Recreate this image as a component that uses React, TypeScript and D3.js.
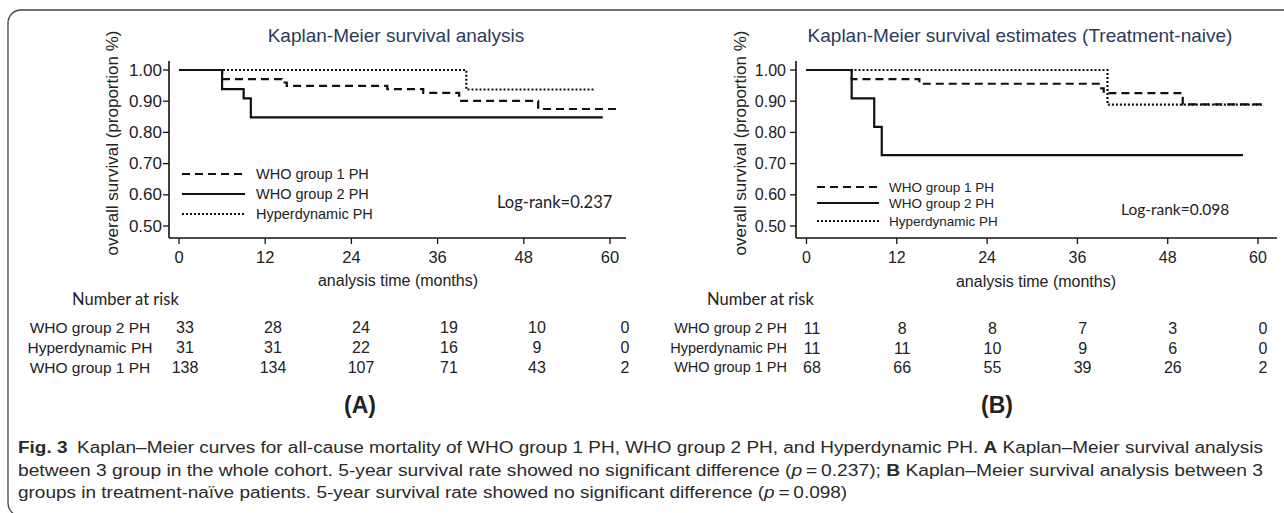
import React, { useLayoutEffect, useRef, useState } from "react";
import * as d3 from "d3";

// ---------- data ----------
const timeTicks = [0, 12, 24, 36, 48, 60];
const survTicks = [0.5, 0.6, 0.7, 0.8, 0.9, 1.0];
const legendLabels = ["WHO group 1 PH", "WHO group 2 PH", "Hyperdynamic PH"];
const riskLabels = ["WHO group 2 PH", "Hyperdynamic PH", "WHO group 1 PH"];

// Panel A: whole cohort
const aTitle = "Kaplan-Meier survival analysis";
const aLogRank = "Log-rank=0.237";
const aG1Time = [0, 6, 14.3, 15, 29, 34, 39, 50, 61.2];
const aG1Surv = [1, 0.971, 0.96, 0.949, 0.939, 0.927, 0.901, 0.875, 0.875];
const aG2Time = [0, 6, 9, 10, 59];
const aG2Surv = [1, 0.939, 0.909, 0.848, 0.848];
const aHdTime = [0, 40, 58];
const aHdSurv = [1, 0.9375, 0.9375];
const aRiskG2 = [33, 28, 24, 19, 10, 0];
const aRiskHd = [31, 31, 22, 16, 9, 0];
const aRiskG1 = [138, 134, 107, 71, 43, 2];

// Panel B: treatment-naive
const bTitle = "Kaplan-Meier survival estimates (Treatment-naive)";
const bLogRank = "Log-rank=0.098";
const bG1Time = [0, 6, 15, 39, 39.5, 50, 60.8];
const bG1Surv = [1, 0.971, 0.956, 0.941, 0.926, 0.89, 0.89];
const bG2Time = [0, 6, 9, 10, 58];
const bG2Surv = [1, 0.909, 0.818, 0.727, 0.727];
const bHdTime = [0, 40, 60.8];
const bHdSurv = [1, 0.889, 0.889];
const bRiskG2 = [11, 8, 8, 7, 3, 0];
const bRiskHd = [11, 11, 10, 9, 6, 0];
const bRiskG1 = [68, 66, 55, 39, 26, 2];

const zip = (t: number[], s: number[]) => t.map((v, i) => [v, s[i]] as [number, number]);

const SANS = "'Liberation Sans', Arial, sans-serif";
const CAL = "Lato, 'Open Sans', sans-serif";

const STYLES = {
  dashed: { dash: "8,5" },
  solid: { dash: undefined as string | undefined },
  dotted: { dash: "2,2" },
};

type Layout = {
  x0: number; x60: number; yAxisX: number; xAxisEnd: number;
  y1: number; y05: number; xAxisY: number; yAxisTop: number;
  titleX: number; titleY: number; ylabX: number; ylabY: number;
  tickFont: number; ytickRight: number; xtickFont: number; xtickY: number;
  xlabX: number; xlabY: number;
  legX1: number; legX2: number; legTextX: number; legY: number[]; legFont: number;
  logX: number; logY: number; logFont: number;
  narX: number; narY: number; narFont: number;
  riskLabelX: number; riskAnchor: "middle" | "end"; riskLabelFont: number;
  riskX0: number; riskX60: number; riskY: number[]; riskFont: number;
  tagX: number; tagY: number; tag: string;
};

function Panel({ L, title, logRank, g1, g2, hd, risk }: {
  L: Layout; title: string; logRank: string;
  g1: [number, number][]; g2: [number, number][]; hd: [number, number][];
  risk: number[][];
}) {
  const x = d3.scaleLinear().domain([0, 60]).range([L.x0, L.x60]);
  const y = d3.scaleLinear().domain([0.5, 1.0]).range([L.y05, L.y1]);
  const rx = d3.scaleLinear().domain([0, 60]).range([L.riskX0, L.riskX60]);
  const line = d3.line<[number, number]>().x(d => x(d[0])).y(d => y(d[1])).curve(d3.curveStepAfter);
  const fmt = d3.format(".2f");
  const curves = [
    { d: hd, s: STYLES.dotted },
    { d: g1, s: STYLES.dashed },
    { d: g2, s: STYLES.solid },
  ];
  const legend = [STYLES.dashed, STYLES.solid, STYLES.dotted];
  return (
    <g>
      <text x={L.titleX} y={L.titleY} textAnchor="middle" dominantBaseline="central"
        fontFamily={SANS} fontSize={19} fill="#2c3a5c">{title}</text>
      <text transform={`translate(${L.ylabX},${L.ylabY}) rotate(-90)`} textAnchor="middle"
        dominantBaseline="central" fontFamily={SANS} fontSize={17} fill="#222">
        overall survival (proportion %)
      </text>
      {/* axes */}
      <line x1={L.yAxisX} x2={L.yAxisX} y1={L.yAxisTop} y2={L.xAxisY} stroke="#111" strokeWidth={1.6} />
      <line x1={L.yAxisX} x2={L.xAxisEnd} y1={L.xAxisY} y2={L.xAxisY} stroke="#111" strokeWidth={1.6} />
      {survTicks.map(t => (
        <g key={t}>
          <line x1={L.yAxisX - 6} x2={L.yAxisX} y1={y(t)} y2={y(t)} stroke="#111" strokeWidth={1.3} />
          <text x={L.ytickRight} y={y(t)} textAnchor="end" dominantBaseline="central"
            fontFamily={SANS} fontSize={L.tickFont} fill="#222">{fmt(t)}</text>
        </g>
      ))}
      {timeTicks.map(t => (
        <g key={t}>
          <line x1={x(t)} x2={x(t)} y1={L.xAxisY} y2={L.xAxisY + 6} stroke="#111" strokeWidth={1.3} />
          <text x={x(t)} y={L.xtickY} textAnchor="middle" dominantBaseline="central"
            fontFamily={SANS} fontSize={L.xtickFont} fill="#222">{t}</text>
        </g>
      ))}
      <text x={L.xlabX} y={L.xlabY} textAnchor="middle" dominantBaseline="central"
        fontFamily={SANS} fontSize={16} fill="#222">analysis time (months)</text>
      {/* curves */}
      {curves.map((c, i) => (
        <path key={i} d={line(c.d) || ""} fill="none" stroke="#111" strokeWidth={2.2}
          strokeDasharray={c.s.dash} />
      ))}
      {/* legend */}
      {legendLabels.map((lab, i) => (
        <g key={lab}>
          <line x1={L.legX1} x2={L.legX2} y1={L.legY[i]} y2={L.legY[i]} stroke="#111" strokeWidth={2.2}
            strokeDasharray={legend[i].dash} />
          <text x={L.legTextX} y={L.legY[i]} dominantBaseline="central" fontFamily={SANS}
            fontSize={L.legFont} fill="#222">{lab}</text>
        </g>
      ))}
      <text x={L.logX} y={L.logY} dominantBaseline="central" fontFamily={CAL} fontSize={L.logFont} fill="#222">{logRank}</text>
      {/* risk table */}
      <text x={L.narX} y={L.narY} dominantBaseline="central" fontFamily={CAL} fontSize={L.narFont} fill="#222">Number at risk</text>
      {riskLabels.map((lab, i) => (
        <g key={lab}>
          <text x={L.riskLabelX} y={L.riskY[i]} textAnchor={L.riskAnchor} dominantBaseline="central"
            fontFamily={SANS} fontSize={L.riskLabelFont} fill="#222">{lab}</text>
          {risk[i].map((v, j) => (
            <text key={j} x={rx(timeTicks[j])} y={L.riskY[i]} textAnchor="middle" dominantBaseline="central"
              fontFamily={SANS} fontSize={L.riskFont} fill="#222">{v}</text>
          ))}
        </g>
      ))}
      <text x={L.tagX} y={L.tagY} textAnchor="middle" dominantBaseline="central" fontFamily={SANS}
        fontSize={23} fontWeight="bold" fill="#222">{L.tag}</text>
    </g>
  );
}

const LA: Layout = {
  x0: 179, x60: 610, yAxisX: 169, xAxisEnd: 626, y1: 70, y05: 226, xAxisY: 238, yAxisTop: 61,
  titleX: 396, titleY: 35, ylabX: 112, ylabY: 143,
  tickFont: 17, ytickRight: 162, xtickFont: 16.5, xtickY: 257, xlabX: 398, xlabY: 280,
  legX1: 182, legX2: 245, legTextX: 256, legY: [174, 194, 214], legFont: 14.5,
  logX: 497, logY: 202, logFont: 16.5,
  narX: 72, narY: 299, narFont: 16.5,
  riskLabelX: 90, riskAnchor: "middle", riskLabelFont: 15.5,
  riskX0: 185, riskX60: 625, riskY: [327, 347, 367], riskFont: 16,
  tagX: 360, tagY: 405, tag: "(A)",
};
const LB: Layout = {
  x0: 806.5, x60: 1258, yAxisX: 796, xAxisEnd: 1277, y1: 70, y05: 226, xAxisY: 238, yAxisTop: 61,
  titleX: 1020, titleY: 35, ylabX: 740, ylabY: 143,
  tickFont: 16, ytickRight: 786, xtickFont: 16, xtickY: 257, xlabX: 1036, xlabY: 281,
  legX1: 817, legX2: 879, legTextX: 889, legY: [187, 203, 221], legFont: 13.5,
  logX: 1121, logY: 209, logFont: 15.5,
  narX: 707, narY: 299, narFont: 16.5,
  riskLabelX: 787, riskAnchor: "end", riskLabelFont: 14.5,
  riskX0: 812, riskX60: 1263, riskY: [328, 348, 367], riskFont: 16,
  tagX: 997, tagY: 405, tag: "(B)",
};

const CAP_FONT = "'Liberation Sans Narrow', 'Liberation Sans', sans-serif";

function Caption() {
  const r1 = useRef<SVGTextElement>(null);
  const r3 = useRef<SVGTextElement>(null);
  const [len3, setLen3] = useState<number | undefined>(undefined);
  const full = 1245;
  useLayoutEffect(() => {
    if (r1.current && r3.current) {
      const w1 = r1.current.getComputedTextLength();
      const w3 = r3.current.getComputedTextLength();
      setLen3((full * w3) / w1);
    }
  }, []);
  const common = { fontFamily: CAP_FONT, fontSize: 16, fill: "#2a2a2a", lengthAdjust: "spacingAndGlyphs" as const };
  return (
    <g>
      <text ref={r1} x={18} y={447} dominantBaseline="central" textLength={len3 === undefined ? undefined : full} {...common}>
        <tspan fontWeight="bold">Fig. 3</tspan>
        <tspan>{"\u2002Kaplan–Meier curves for all-cause mortality of WHO group 1 PH, WHO group 2 PH, and Hyperdynamic PH. "}</tspan>
        <tspan fontWeight="bold">A</tspan>
        <tspan>{" Kaplan–Meier survival analysis"}</tspan>
      </text>
      <text x={18} y={470} dominantBaseline="central" textLength={full} {...common}>
        <tspan>{"between 3 group in the whole cohort. 5-year survival rate showed no significant difference ("}</tspan>
        <tspan fontStyle="italic">p</tspan>
        <tspan>{"\u2009=\u20090.237); "}</tspan>
        <tspan fontWeight="bold">B</tspan>
        <tspan>{" Kaplan–Meier survival analysis between 3"}</tspan>
      </text>
      <text ref={r3} x={18} y={492} dominantBaseline="central" textLength={len3} {...common}>
        <tspan>{"groups in treatment-naïve patients. 5-year survival rate showed no significant difference ("}</tspan>
        <tspan fontStyle="italic">p</tspan>
        <tspan>{"\u2009=\u20090.098)"}</tspan>
      </text>
    </g>
  );
}

export default function App() {
  return (
    <svg width={1284} height={513} style={{ position: "absolute", left: 0, top: 0, background: "#fff" }}>
      <rect x={0} y={0} width={1284} height={513} fill="#fff" />
      <rect x={8} y={10} width={1300} height={506} rx={13} ry={13} fill="none" stroke="#444" strokeWidth={1.3} />
      <Panel L={LA} title={aTitle} logRank={aLogRank}
        g1={zip(aG1Time, aG1Surv)} g2={zip(aG2Time, aG2Surv)} hd={zip(aHdTime, aHdSurv)}
        risk={[aRiskG2, aRiskHd, aRiskG1]} />
      <Panel L={LB} title={bTitle} logRank={bLogRank}
        g1={zip(bG1Time, bG1Surv)} g2={zip(bG2Time, bG2Surv)} hd={zip(bHdTime, bHdSurv)}
        risk={[bRiskG2, bRiskHd, bRiskG1]} />
      <Caption />
    </svg>
  );
}
